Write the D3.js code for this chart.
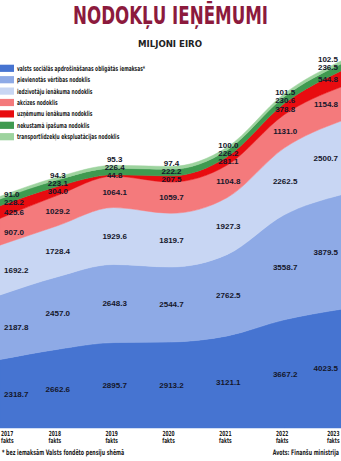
<!DOCTYPE html>
<html>
<head>
<meta charset="utf-8">
<script src="https://cdn.jsdelivr.net/npm/d3@7"></script>
<style>
html,body{margin:0;padding:0;background:#fff;}
svg{display:block;}
</style>
</head>
<body>
<svg id="chart" width="341" height="461"></svg>
<script>
const years = ["2017","2018","2019","2020","2021","2022","2023"];
const yearSub = "fakts";
const seriesNames = [
  "valsts sociālās apdrošināšanas obligātās iemaksas*",
  "pievienotās vērtības nodoklis",
  "iedzīvotāju ienākuma nodoklis",
  "akcīzes nodoklis",
  "uzņēmumu ienākuma nodoklis",
  "nekustamā īpašuma nodoklis",
  "transportlīdzekļu ekspluatācijas nodoklis"
];
const socialValues    = [2318.7, 2662.6, 2895.7, 2913.2, 3121.1, 3667.2, 4023.5];
const vatValues       = [2187.8, 2457.0, 2648.3, 2544.7, 2762.5, 3558.7, 3879.5];
const pitValues       = [1692.2, 1728.4, 1929.6, 1819.7, 1927.3, 2262.5, 2500.7];
const exciseValues    = [907.0, 1029.2, 1064.1, 1059.7, 1104.8, 1131.0, 1154.8];
const citValues       = [425.6, 304.0, 44.8, 207.5, 281.1, 378.8, 544.8];
const propertyValues  = [228.2, 223.1, 226.4, 222.2, 226.2, 230.6, 236.5];
const transportValues = [91.0, 94.3, 95.3, 97.4, 100.0, 101.5, 102.5];
const allSeries = [socialValues, vatValues, pitValues, exciseValues, citValues, propertyValues, transportValues];
const colors = ["#4674d1", "#8eaae6", "#c8d6f3", "#f47a7c", "#e80c10", "#3f9a50", "#9dd39e"];
const titleText = "NODOKĻU IEŅĒMUMI";
const subtitleText = "MILJONI EIRO";
const footnoteText = "* bez iemaksām Valsts fondēto pensiju shēmā";
const sourceText = "Avots: Finanšu ministrija";

const W = 341, H = 461;
const svg = d3.select("#chart");
const narrow = "'Liberation Sans Narrow','DejaVu Sans Condensed','Arial Narrow',sans-serif";
const SQUEEZE = 0.7;
// horizontally compressed text via a scale transform
function squeezed(parent, text, ax, ay, anchor, size){
  return parent.append("text")
    .attr("transform", `translate(${ax},${ay}) scale(${SQUEEZE},1)`)
    .attr("text-anchor", anchor)
    .attr("font-family", narrow).attr("font-weight","bold")
    .attr("font-size", size).attr("fill","#1a1a1a").text(text);
}

const keys = seriesNames.map((d,i)=>"s"+i);
const table = years.map((y,j)=>{
  const o = {year:y};
  allSeries.forEach((s,i)=>{ o["s"+i] = s[j]; });
  return o;
});
const stacked = d3.stack().keys(keys)(table);

const x = d3.scalePoint().domain(years).range([0, W]);
const y = d3.scaleLinear().domain([0, 13000]).range([428, 44.5]);

const area = d3.area()
  .x(d=>x(d.data.year))
  .y0(d=>y(d[0]))
  .y1(d=>y(d[1]))
  .curve(d3.curveMonotoneX);

svg.append("g").selectAll("path").data(stacked).join("path")
  .attr("d", area)
  .attr("fill", (d,i)=>colors[i])
  .attr("stroke", (d,i)=>colors[i])
  .attr("stroke-width", 0.5);

// value labels
const lblG = svg.append("g")
  .attr("font-family","'Liberation Sans',Arial,sans-serif")
  .attr("font-weight","bold")
  .attr("font-size", 8)
  .attr("fill","#15172b");
years.forEach((yr,j)=>{
  let prev = Infinity;
  stacked.forEach((layer,i)=>{
    const d = layer[j];
    let cy = (y(d[0]) + y(d[1]))/2;
    if (cy > prev - 8) cy = prev - 8;
    prev = cy;
    let tx = x(yr), anchor = "middle";
    if (j === 0) { tx = 4; anchor = "start"; }
    else if (j === years.length-1) { tx = 338; anchor = "end"; }
    else tx += 1;
    lblG.append("text")
      .attr("x", tx).attr("y", cy).attr("dy","0.35em")
      .attr("text-anchor", anchor)
      .text(allSeries[i][j].toFixed(1));
  });
});

// title
svg.append("text")
  .attr("x", 170.5).attr("y", 23.5)
  .attr("text-anchor","middle")
  .attr("font-family", narrow)
  .attr("font-weight","bold")
  .attr("font-size", 25)
  .attr("fill","#8c1a3d")
  .attr("textLength", 195).attr("lengthAdjust","spacingAndGlyphs")
  .text(titleText);
svg.append("text")
  .attr("x", 170).attr("y", 47)
  .attr("text-anchor","middle")
  .attr("font-family", narrow)
  .attr("font-weight","bold")
  .attr("font-size", 9.5)
  .attr("fill","#222")
  .attr("textLength", 64).attr("lengthAdjust","spacingAndGlyphs")
  .text(subtitleText);

// legend
const leg = svg.append("g");
seriesNames.forEach((n,i)=>{
  const ly = 68.3 + i*11.4;
  leg.append("rect").attr("x",0).attr("y",ly-3.6).attr("width",14).attr("height",7.2).attr("fill",colors[i]);
  squeezed(leg, n, 17, ly + 2.5, "start", 7);
});

// x axis labels
const ax = svg.append("g");
years.forEach((yr,j)=>{
  let tx = x(yr), anchor = "middle";
  if (j === 0) { tx = 1; anchor = "start"; }
  else if (j === years.length-1) { tx = 339.5; anchor = "end"; }
  else tx -= 2;
  squeezed(ax, yr, tx, 435.5, anchor, 7);
  squeezed(ax, yearSub, tx, 443, anchor, 7);
});

// footer
squeezed(svg, footnoteText, 2, 455, "start", 7.5);
squeezed(svg, sourceText, 339, 455, "end", 7.5);
</script>
</body>
</html>
